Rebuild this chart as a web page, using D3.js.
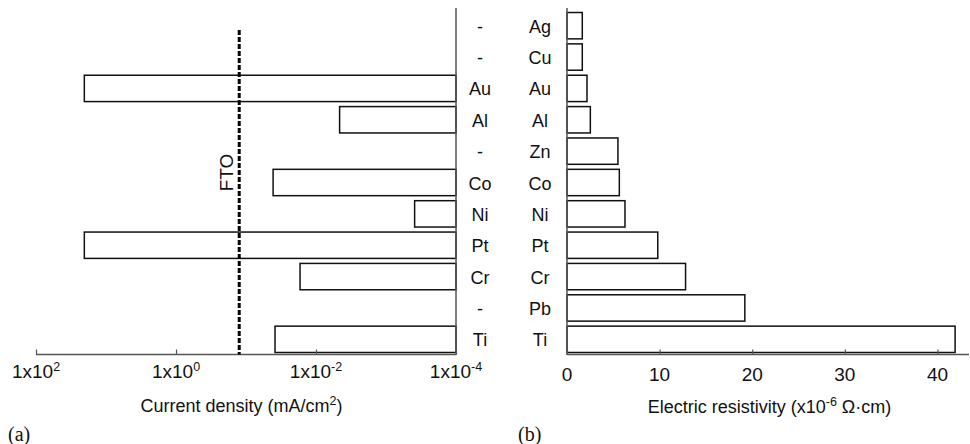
<!DOCTYPE html>
<html><head><meta charset="utf-8">
<script src="https://cdn.jsdelivr.net/npm/d3@7"></script>
<style>
body{margin:0;background:#fff;}
svg{display:block;font-family:"Liberation Sans",Arial,sans-serif;}
</style></head>
<body><svg id="c" width="970" height="444"></svg>
<script>
const leftLabels = ["-","-","Au","Al","-","Co","Ni","Pt","Cr","-","Ti"];
const rightLabels = ["Ag","Cu","Au","Al","Zn","Co","Ni","Pt","Cr","Pb","Ti"];
const currentDensity = [null,null,20.4,0.0046,null,0.041,0.00039,20.4,0.0169,null,0.0385];
const resistivity = [1.65,1.65,2.16,2.52,5.5,5.65,6.26,9.8,12.8,19.2,41.9];
const fto = 0.125;
const leftTickExps = [2,0,-2,-4];
const rightTicks = [0,10,20,30,40];

const svg = d3.select("#c");
const FS = 18, TFS = 19, SUP = 12.5;
const rows = d3.range(rightLabels.length);
const y = d3.scaleBand().domain(rows).range([10,355]).paddingInner(0.16).paddingOuter(0.08);
const xL = d3.scaleLog().domain([100,1e-4]).range([36,456]);
const xR = d3.scaleLinear().domain([0,40]).range([567,937.5]);
const axisColor = "#555";
const txt = "#111";

// left bars
svg.append("g").selectAll("rect").data(rows.filter(i=>currentDensity[i]!==null)).join("rect")
  .attr("x", i=>xL(currentDensity[i])).attr("y", i=>y(i))
  .attr("width", i=>xL(1e-4)-xL(currentDensity[i])).attr("height", y.bandwidth())
  .attr("fill","#fff").attr("stroke","#111").attr("stroke-width",1.5);

// right bars
svg.append("g").selectAll("rect").data(rows).join("rect")
  .attr("x", xR(0)).attr("y", i=>y(i))
  .attr("width", i=>xR(resistivity[i])-xR(0)).attr("height", y.bandwidth())
  .attr("fill","#fff").attr("stroke","#111").attr("stroke-width",1.5);

// vertical axis lines
svg.append("line").attr("x1",xL(1e-4)).attr("x2",xL(1e-4)).attr("y1",8).attr("y2",355)
  .attr("stroke",axisColor).attr("stroke-width",1.5);
svg.append("line").attr("x1",xR(0)).attr("x2",xR(0)).attr("y1",8).attr("y2",355)
  .attr("stroke",axisColor).attr("stroke-width",1.5);

// bottom axes
const axY = 354.5;
const gL = svg.append("g").attr("transform",`translate(0,${axY})`)
  .call(d3.axisBottom(xL).tickValues(leftTickExps.map(e=>Math.pow(10,e))).tickSize(-5).tickFormat(""));
gL.select(".domain").attr("d",`M${xL(100)},0H${xL(1e-4)}`).attr("stroke",axisColor).attr("stroke-width",1.5);
gL.selectAll(".tick line").attr("stroke",axisColor).attr("stroke-width",1.2);
const gR = svg.append("g").attr("transform",`translate(0,${axY})`)
  .call(d3.axisBottom(xR).tickValues(rightTicks).tickSize(-5).tickFormat(""));
gR.select(".domain").attr("d",`M${xR(0)},0H969`).attr("stroke",axisColor).attr("stroke-width",1.5);
gR.selectAll(".tick line").attr("stroke",axisColor).attr("stroke-width",1.2);

// left tick labels
leftTickExps.forEach(e=>{
  const t = svg.append("text").attr("x", xL(Math.pow(10,e))).attr("y",378)
    .attr("text-anchor","middle").attr("font-size",TFS).attr("fill",txt);
  t.append("tspan").text("1x10");
  t.append("tspan").attr("dy",-7).attr("font-size",SUP).text(String(e));
});
// right tick labels
rightTicks.forEach(v=>{
  svg.append("text").attr("x", xR(v)).attr("y",381).attr("text-anchor","middle")
    .attr("font-size",TFS).attr("fill",txt).text(v);
});

// category labels
svg.append("g").selectAll("text").data(rows).join("text")
  .attr("x",480).attr("y",i=>y(i)+y.bandwidth()/2+7).attr("text-anchor","middle")
  .attr("font-size",FS).attr("fill",txt).text(i=>leftLabels[i]);
svg.append("g").selectAll("text").data(rows).join("text")
  .attr("x",540).attr("y",i=>y(i)+y.bandwidth()/2+7).attr("text-anchor","middle")
  .attr("font-size",FS).attr("fill",txt).text(i=>rightLabels[i]);

// FTO line
svg.append("line").attr("x1",xL(fto)).attr("x2",xL(fto)).attr("y1",30).attr("y2",axY)
  .attr("stroke","#000").attr("stroke-width",3).attr("stroke-dasharray","5,2");
svg.append("text").attr("transform",`translate(${xL(fto)-6},172.5) rotate(-90)`)
  .attr("text-anchor","middle").attr("font-size",TFS).attr("fill",txt).text("FTO");

// axis titles
const tL = svg.append("text").attr("x",241.5).attr("y",411.5).attr("text-anchor","middle")
  .attr("font-size",FS).attr("fill",txt);
tL.append("tspan").text("Current density (mA/cm");
tL.append("tspan").attr("dy",-7).attr("font-size",SUP).text("2");
tL.append("tspan").attr("dy",7).text(")");

const tR = svg.append("text").attr("x",769.5).attr("y",413).attr("text-anchor","middle")
  .attr("font-size",FS).attr("fill",txt);
tR.append("tspan").text("Electric resistivity (x10");
tR.append("tspan").attr("dy",-7).attr("font-size",SUP).text("-6");
tR.append("tspan").attr("dy",7).text(" \u03A9\u00B7cm)");

// panel labels
svg.append("text").attr("x",8).attr("y",441).attr("font-family","'Liberation Serif','Times New Roman',serif")
  .attr("font-size",20).attr("fill",txt).text("(a)");
svg.append("text").attr("x",518).attr("y",441).attr("font-family","'Liberation Serif','Times New Roman',serif")
  .attr("font-size",20).attr("fill",txt).text("(b)");
</script></body></html>
